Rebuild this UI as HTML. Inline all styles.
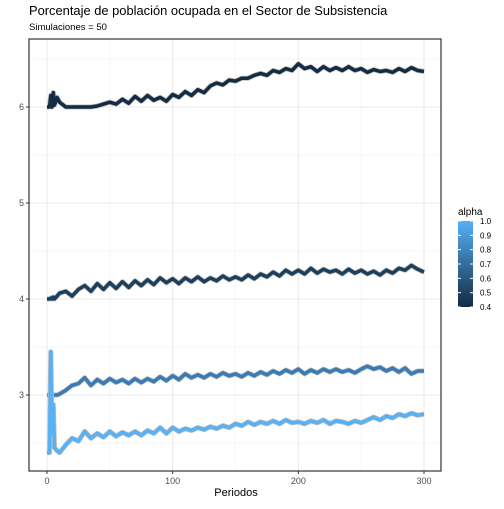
<!DOCTYPE html>
<html><head><meta charset="utf-8"><style>
body{margin:0;background:#fff}
svg text{font-family:"Liberation Sans",sans-serif}
</style></head><body>
<svg id="c" width="504" height="504" xmlns="http://www.w3.org/2000/svg">
<defs><linearGradient id="g" x1="0" y1="1" x2="0" y2="0"><stop offset="0" stop-color="#132B43"/><stop offset="1" stop-color="#56B1F7"/></linearGradient></defs>
<text x="29" y="15" font-size="12.9" fill="#000">Porcentaje de población ocupada en el Sector de Subsistencia</text>
<text x="29" y="30" font-size="9.5" fill="#000">Simulaciones = 50</text>
<g id="grid"></g>
<g id="series"></g>
<rect x="29" y="39" width="412" height="432" fill="none" stroke="#333" stroke-width="1.2"/>
<g id="axes"></g>
<text x="236" y="496" font-size="11" text-anchor="middle">Periodos</text>
<g>
<text x="458" y="215" font-size="10">alpha</text>
<rect x="458" y="221" width="15" height="86" fill="url(#g)"/>
<g id="leg"></g>
</g>
</svg>
<script>
const periods=[0,2,3,4,5,6,8,10,15,20,25,30,35,40,45,50,55,60,65,70,75,80,85,90,95,100,105,110,115,120,125,130,135,140,145,150,155,160,165,170,175,180,185,190,195,200,205,210,215,220,225,230,235,240,245,250,255,260,265,270,275,280,285,290,295,300];
const s04=[6.0,6.0,6.12,6.0,6.15,6.02,6.1,6.05,6.0,6.0,6.0,6.0,6.0,6.01,6.03,6.05,6.03,6.08,6.04,6.11,6.06,6.12,6.07,6.1,6.06,6.13,6.1,6.16,6.12,6.18,6.15,6.22,6.25,6.23,6.28,6.27,6.3,6.3,6.33,6.35,6.33,6.38,6.36,6.4,6.38,6.45,6.4,6.42,6.37,6.42,6.38,6.41,6.38,6.42,6.38,6.4,6.36,6.39,6.37,6.38,6.36,6.4,6.37,6.41,6.38,6.37];
const s05=[4.0,4.0,4.01,4.0,4.02,4.0,4.03,4.06,4.08,4.03,4.1,4.14,4.08,4.16,4.1,4.17,4.11,4.18,4.12,4.19,4.14,4.2,4.15,4.22,4.17,4.21,4.16,4.22,4.18,4.23,4.18,4.22,4.19,4.24,4.2,4.23,4.2,4.25,4.21,4.26,4.23,4.28,4.24,4.3,4.26,4.3,4.26,4.32,4.27,4.31,4.28,4.3,4.26,4.31,4.27,4.3,4.26,4.29,4.25,4.3,4.27,4.32,4.3,4.35,4.31,4.28];
const s08=[3.0,3.0,3.0,3.0,3.0,3.0,3.0,3.01,3.05,3.1,3.12,3.18,3.1,3.16,3.12,3.17,3.13,3.16,3.12,3.17,3.13,3.17,3.14,3.19,3.15,3.2,3.16,3.22,3.18,3.21,3.18,3.22,3.19,3.23,3.2,3.22,3.19,3.23,3.2,3.24,3.21,3.25,3.22,3.26,3.23,3.27,3.22,3.26,3.23,3.27,3.24,3.27,3.24,3.26,3.23,3.27,3.3,3.27,3.29,3.25,3.28,3.24,3.28,3.22,3.25,3.25];
const s10=[2.4,2.4,3.45,2.6,2.9,2.45,2.42,2.4,2.48,2.55,2.52,2.62,2.55,2.6,2.56,2.62,2.57,2.61,2.58,2.62,2.58,2.63,2.6,2.66,2.6,2.66,2.62,2.65,2.63,2.66,2.64,2.67,2.65,2.68,2.66,2.7,2.68,2.72,2.69,2.72,2.7,2.73,2.7,2.74,2.71,2.72,2.7,2.73,2.71,2.74,2.7,2.73,2.72,2.7,2.73,2.71,2.74,2.77,2.74,2.78,2.76,2.8,2.78,2.81,2.79,2.8];
const xTicks=[0,100,200,300];
const yTicks=[3,4,5,6];
const legendTicks=[0.4,0.5,0.6,0.7,0.8,0.9,1.0];
const NS='http://www.w3.org/2000/svg';
const X=v=>47+v*(377/300);
const Y=v=>107+(6-v)*96;
function mk(t,a,p){const e=document.createElementNS(NS,t);for(const k in a)e.setAttribute(k,a[k]);p.appendChild(e);return e;}
const grid=document.getElementById('grid'),axes=document.getElementById('axes'),ser=document.getElementById('series'),leg=document.getElementById('leg');
[50,150,250].forEach(v=>{const l=mk('line',{x1:X(v),x2:X(v),y1:39,y2:471,stroke:'#f0f0f0','stroke-width':0.6},grid);

});
[2.5,3.5,4.5,5.5,6.5].forEach(v=>{if(Y(v)<39)return;const l=mk('line',{x1:29,x2:441,y1:Y(v),y2:Y(v),stroke:'#f0f0f0','stroke-width':0.6},grid);

});
xTicks.forEach(v=>{const l=mk('line',{x1:X(v),x2:X(v),y1:39,y2:471,stroke:'#ebebeb','stroke-width':1.1},grid);


const t=mk('line',{x1:X(v),x2:X(v),y1:471,y2:474,stroke:'#333'},axes);


const tx=mk('text',{x:X(v),y:484,'font-size':9,'text-anchor':'middle',fill:'#4d4d4d'},axes);tx.textContent=v;

});
yTicks.forEach(v=>{const l=mk('line',{x1:29,x2:441,y1:Y(v),y2:Y(v),stroke:'#ebebeb','stroke-width':1.1},grid);


const t=mk('line',{x1:26,x2:29,y1:Y(v),y2:Y(v),stroke:'#333'},axes);


const tx=mk('text',{x:24,y:Y(v)+3,'font-size':9,'text-anchor':'end',fill:'#4d4d4d'},axes);tx.textContent=v;

});
const series=[[s04,'#132B43','series-alpha-0-4'],[s05,'#1D3F5E','series-alpha-0-5'],[s08,'#3A7BB6','series-alpha-0-8'],[s10,'#56B1F7','series-alpha-1-0']];
series.forEach(([d,c,n])=>{const n2=Math.min(d.length,periods.length);let p='';for(let i=0;i<n2;i++)p+=(i?'L':'M')+X(periods[i]).toFixed(1)+','+Y(d[i]).toFixed(1);
const b=mk('path',{d:p,fill:'none',stroke:'#bdbdbd','stroke-width':5,'stroke-linejoin':'round'},ser);


const l=mk('path',{d:p,fill:'none',stroke:c,'stroke-width':3.5,'stroke-linejoin':'round'},ser);

});
legendTicks.forEach(v=>{const y=307-(v-0.4)/0.6*86;
const a=mk('line',{x1:458,x2:461,y1:y,y2:y,stroke:'#fff'},leg);


const b=mk('line',{x1:470,x2:473,y1:y,y2:y,stroke:'#fff'},leg);


const t=mk('text',{x:480,y:y+3,'font-size':8},leg);t.textContent=v.toFixed(1);

});
</script>
</body></html>
